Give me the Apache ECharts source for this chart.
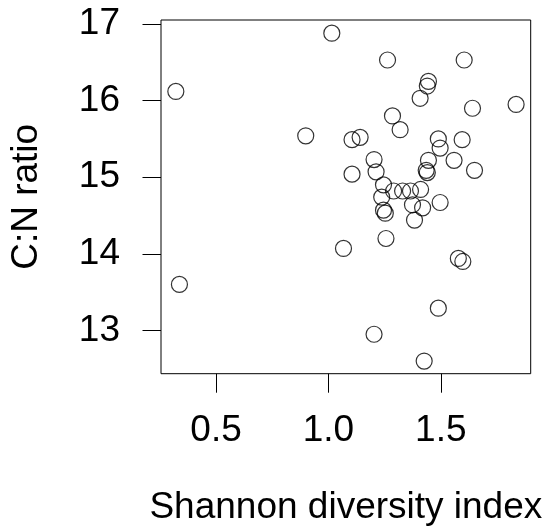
<!DOCTYPE html>
<html>
<head>
<meta charset="utf-8">
<script src="https://cdn.jsdelivr.net/npm/echarts@6/dist/echarts.min.js"></script>
<style>
html,body{margin:0;padding:0;background:#fff;}
#chart{width:550px;height:532px;}
</style>
</head>
<body>
<div id="chart"></div>
<script>
const xTicks = [0.5, 1.0, 1.5];
const yTicks = [13, 14, 15, 16, 17];
const xTitle = 'Shannon diversity index';
const yTitle = 'C:N ratio';

const shannon = [
  1.015, 1.263, 1.604, 0.321, 1.445, 1.440, 1.408, 1.641, 1.835, 1.285,
  1.319, 0.899, 1.105, 1.141, 1.489, 1.497, 1.595, 1.559, 1.650, 1.203,
  1.212, 1.105, 1.445, 1.435, 1.440,
  1.245, 1.290, 1.330, 1.365, 1.410, 1.237, 1.245, 1.253, 1.374, 1.419,
  1.497, 1.383, 1.256, 1.067, 1.578, 1.598, 0.337, 1.489, 1.203, 1.426
];
const cnRatio = [
  16.88, 16.53, 16.53, 16.12, 16.25, 16.19, 16.03, 15.90, 15.95, 15.80,
  15.62, 15.54, 15.49, 15.52, 15.50, 15.38, 15.49, 15.22, 15.09, 15.23,
  15.07, 15.04, 15.22, 15.09, 15.06,
  14.90, 14.82, 14.82, 14.82, 14.84, 14.74, 14.57, 14.53, 14.64, 14.60,
  14.67, 14.44, 14.20, 14.07, 13.94, 13.90, 13.60, 13.29, 12.95, 12.60
];

const points = shannon.map((x, i) => [x, cnRatio[i]]);
const font = 'Liberation Sans, Arial, sans-serif';

const chart = echarts.init(document.getElementById('chart'), null, {renderer: 'canvas'});
chart.setOption({
  animation: false,
  backgroundColor: '#fff',
  grid: {left: 161, right: 19.3, top: 20, bottom: 158.3, show: true, borderColor: '#000', borderWidth: 1, backgroundColor: 'transparent'},
  xAxis: {
    type: 'value', min: 0.255, max: 1.9,
    name: xTitle, nameLocation: 'middle', nameGap: 115.5,
    nameTextStyle: {fontFamily: font, fontSize: 37, color: '#000'},
    axisLine: {show: false},
    axisTick: {show: true, inside: false, length: 19, customValues: xTicks, lineStyle: {color: '#000', width: 1}},
    axisLabel: {show: true, margin: 38.5, customValues: xTicks, fontFamily: font, fontSize: 37, color: '#000',
      formatter: v => v.toFixed(1)},
    splitLine: {show: false}
  },
  yAxis: {
    type: 'value', min: 12.435, max: 17.052,
    name: yTitle, nameLocation: 'middle', nameGap: 115.5,
    nameTextStyle: {fontFamily: font, fontSize: 37, color: '#000'},
    axisLine: {show: false},
    axisTick: {show: true, inside: false, length: 18.5, customValues: yTicks, lineStyle: {color: '#000', width: 1}},
    axisLabel: {show: true, margin: 41, customValues: yTicks, fontFamily: font, fontSize: 37, color: '#000',
      padding: [5, 0, 0, 0],
      formatter: v => String(v)},
    splitLine: {show: false}
  },
  series: [{
    type: 'scatter',
    data: points,
    symbol: 'circle',
    symbolSize: 16,
    itemStyle: {color: 'rgba(0,0,0,0)', borderColor: '#000', borderWidth: 1.2},
    emphasis: {disabled: true},
    silent: true
  }]
});
</script>
</body>
</html>
